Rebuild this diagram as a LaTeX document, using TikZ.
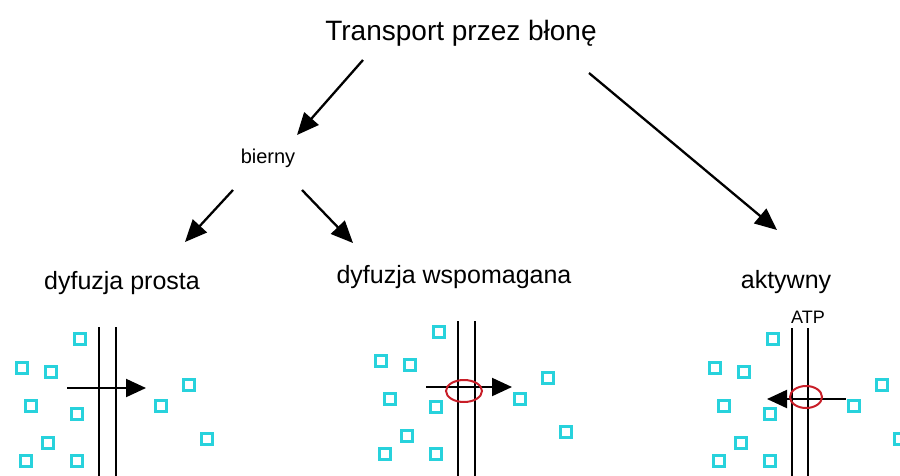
\documentclass[tikz,border=0pt]{standalone}
\usepackage{fontspec}
\setmainfont{Liberation Sans}
\usetikzlibrary{arrows.meta}
\definecolor{molcyan}{RGB}{40,210,220}
\definecolor{carrierred}{RGB}{200,30,40}
% molecule positions, x relative to the membrane, y absolute
\newcommand\molpos{-19/339,-77/368,-48/372,-68/406,-22/414,-51/443,-73/461,-22/461,62/406,90/385,108/439}

\begin{document}
\begin{tikzpicture}[x=1pt,y=-1pt,
  lbl/.style={inner sep=0pt,anchor=base,font=\fontsize{25}{30}\selectfont},
  bigarr/.style={-{Triangle[length=22pt,width=19pt]},line width=2.3pt},
  flowarr/.style={-{Triangle[length=20pt,width=18pt]},line width=2.1pt},
  membr/.style={line width=2pt},
  mol/.style={draw=molcyan,line width=2.4pt},
  carrier/.style={draw=carrierred,line width=2pt}]
\useasboundingbox (0,0) rectangle (900,475);

\node[lbl,font=\fontsize{28}{34}\selectfont] (title) at (461,40) {Transport przez błonę};
\node[lbl,font=\fontsize{20}{24}\selectfont] (bierny) at (268,163) {bierny};
\node[lbl] (prosta) at (122,289) {dyfuzja prosta};
\node[lbl] (wspom) at (454,283) {dyfuzja wspomagana};
\node[lbl] (aktywny) at (786,288) {aktywny};
\node[lbl,font=\fontsize{18}{22}\selectfont] (atp) at (808,323) {ATP};

\draw[bigarr] ([shift={(-98,20)}]title.base) -- ([shift={(29,-28)}]bierny.base);
\draw[bigarr] ([shift={(128,33)}]title.base) -- ([shift={(-9,-58)}]aktywny.base);
\draw[bigarr] ([shift={(-35,27)}]bierny.base) -- ([shift={(63,-47)}]prosta.base);
\draw[bigarr] ([shift={(34,27)}]bierny.base) -- ([shift={(-101,-40)}]wspom.base);

% simple diffusion
\begin{scope}[shift={(99,0)}]
\foreach \a/\b in \molpos \draw[mol] (\a-5.5,\b-5.5) rectangle ++(11,11);
\draw[membr] (0,327) -- (0,480) (17,327) -- (17,480);
\coordinate (p1from) at (-32,388);
\coordinate (p1to) at (47,388);
\draw[flowarr] (p1from) -- (p1to);
\end{scope}

% facilitated diffusion
\begin{scope}[shift={(458,-7)}]
\foreach \a/\b in \molpos \draw[mol] (\a-5.5,\b-5.5) rectangle ++(11,11);
\draw[membr] (0,328) -- (0,490) (17,328) -- (17,490);
\coordinate (p2from) at (-32,394);
\coordinate (p2to) at (54,394);
\draw[flowarr] (p2from) -- (p2to);
\draw[carrier] (6,398) ellipse [x radius=18pt,y radius=11pt];
\end{scope}

% active transport
\begin{scope}[shift={(792,0)}]
\foreach \a/\b in \molpos \draw[mol] (\a-5.5,\b-5.5) rectangle ++(11,11);
\draw[membr] (0,328) -- (0,480) (16,328) -- (16,480);
\coordinate (p3from) at (54,399);
\coordinate (p3to) at (-25,399);
\draw[flowarr] (p3from) -- (p3to);
\draw[carrier] (14,397) ellipse [x radius=16pt,y radius=11pt];
\end{scope}
\end{tikzpicture}
\end{document}
